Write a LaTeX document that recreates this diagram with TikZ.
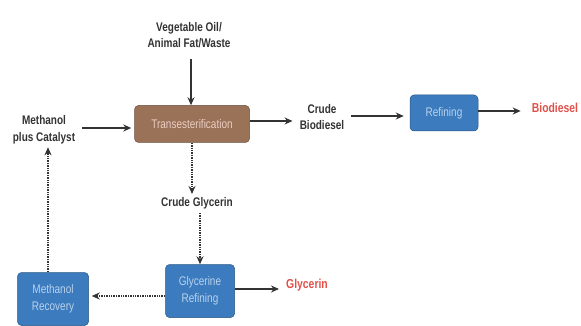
\documentclass[tikz,border=0pt]{standalone}
\usepackage{fontspec}
\setmainfont{Liberation Sans}[FakeStretch=0.8]
\usetikzlibrary{arrows.meta}
\definecolor{boxblue}{HTML}{3B7BBE}
\definecolor{boxbrown}{HTML}{9A7258}
\definecolor{txtblue}{HTML}{B9D2EC}
\definecolor{txtbrown}{HTML}{EBCDC4}
\definecolor{prodred}{HTML}{E0504A}
\definecolor{linegray}{HTML}{333333}
\tikzset{
  proc/.style={draw=boxblue!70!black, line width=0.5pt, fill=boxblue, rounded corners=4pt, text=txtblue, align=center, inner sep=0pt, font=\fontsize{12.5}{16.5}\selectfont},
  txt/.style={align=center, text=linegray, inner sep=1pt, font=\bfseries\fontsize{12.5}{16.5}\selectfont},
  prod/.style={text=prodred, font=\bfseries\fontsize{13}{16}\selectfont, inner sep=1pt},
  flow/.style={draw=linegray, line width=1.3pt, -{Stealth[length=8pt,width=7pt]}},
  dflow/.style={draw=linegray, line width=1.4pt, densely dotted, -{Stealth[length=8pt,width=7pt]}}
}
\begin{document}
\begin{tikzpicture}[x=1pt,y=-1pt]
\useasboundingbox (0,0) rectangle (581,326);
\node[txt] (feed) at (189,35) {Vegetable Oil/\\Animal Fat/Waste};
\node[proc, fill=boxbrown, draw=boxbrown!70!black, text=txtbrown, minimum width=115pt, minimum height=37pt] (trans) at (192,124) {Transesterification};
\node[txt] (meth) at (44,130) {Methanol\\plus Catalyst};
\node[txt] (cbio) at (322,117) {Crude\\Biodiesel};
\node[proc, minimum width=68pt, minimum height=36pt] (ref) at (444,113) {Refining};
\node[prod] (bio) at (555,108) {Biodiesel};
\node[txt] (cgly) at (197,203) {Crude Glycerin};
\node[proc, minimum width=69pt, minimum height=53pt] (gref) at (200,291) {Glycerine\\Refining};
\node[prod] (gly) at (307,285) {Glycerin};
\node[proc, minimum width=71pt, minimum height=53pt] (mrec) at (53,299) {Methanol\\Recovery};

\draw[flow] (191,59) coordinate (f1) (f1) -- (trans.north -| f1);
\draw[flow, shorten >=3pt] (meth.east |- 0,128) ++(6,0) coordinate (m1) (m1) -- (trans.west |- m1);
\draw[flow, shorten >=6pt] (trans.east |- 0,121) -- (cbio.west |- 0,121);
\draw[flow, shorten >=6pt] (cbio.east |- 0,116) ++(6,0) coordinate (c1) (c1) -- (ref.west |- c1);
\draw[flow, shorten >=10pt] (ref.east |- 0,111) -- (bio.west |- 0,111);
\draw[dflow, shorten >=2pt] (trans.south) -- (cgly.north -| trans.south);
\draw[dflow, shorten <=3pt] (cgly.south -| gref.north) -- (gref.north);
\draw[flow, shorten >=6pt] (gref.east |- 0,289) -- (gly.west |- 0,289);
\draw[dflow, shorten >=3pt] (gref.west |- 0,296) -- (mrec.east |- 0,296);
\draw[dflow, shorten >=2pt] (mrec.north -| 48,0) -- (meth.south -| 48,0);
\end{tikzpicture}
\end{document}
